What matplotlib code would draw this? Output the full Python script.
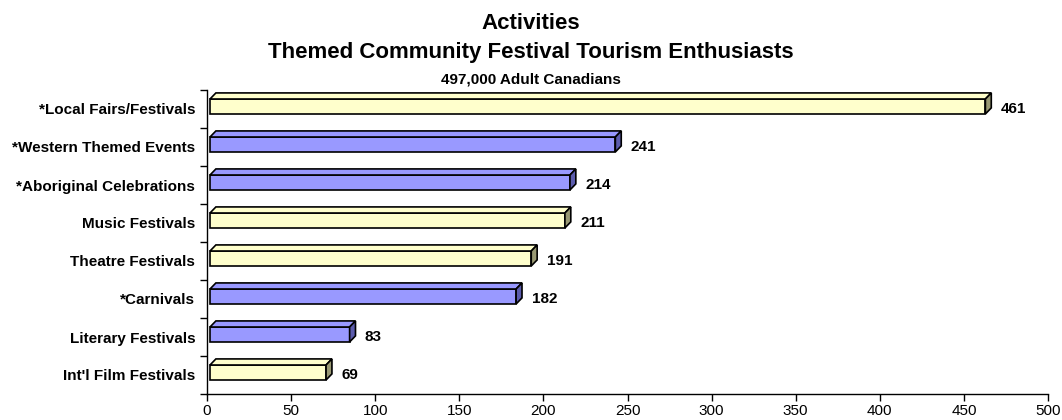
import numpy as np
import matplotlib.pyplot as plt
import matplotlib.transforms as mtransforms
from matplotlib.patches import Polygon

plt.rcParams['font.family'] = ['Liberation Sans', 'DejaVu Sans']

# Données
activities = ["*Local Fairs/Festivals", "*Western Themed Events", "*Aboriginal Celebrations",
              "Music Festivals", "Theatre Festivals", "*Carnivals", "Literary Festivals",
              "Int'l Film Festivals"]
values = [461, 241, 214, 211, 191, 182, 83, 69]
bar_group = ["yellow", "blue", "blue", "yellow", "yellow", "blue", "blue", "yellow"]
x_ticks = [0, 50, 100, 150, 200, 250, 300, 350, 400, 450, 500]

# Couleurs (face, côté)
palette = {
    "yellow": ("#FFFFCC", "#999973"),
    "blue": ("#9999FF", "#5C5CAD"),
}

fig = plt.figure(figsize=(10.62, 4.2), dpi=100)
ax = fig.add_axes([207 / 1062, 1 - 394 / 420, 841 / 1062, 304 / 420])

ax.set_xlim(0, 500)
ax.set_ylim(len(activities) - 0.5, -0.5)

# Décalage léger des barres (effet 3D d'Excel)
shift = mtransforms.ScaledTranslation(3 / 100, 0, fig.dpi_scale_trans)
trans = ax.transData + shift

dx, dy = 3.5, 0.16    # profondeur en unités de données
h = 0.197             # demi-hauteur de la face
off = -0.066          # la face est un peu au-dessus du centre

for i, (v, g) in enumerate(zip(values, bar_group)):
    face, side = palette[g]
    yc = i + off
    top = yc - h
    bot = yc + h
    front = Polygon([(0, top), (v, top), (v, bot), (0, bot)], closed=True,
                    facecolor=face, edgecolor="black", lw=1.2, transform=trans,
                    clip_on=False, joinstyle="miter")
    roof = Polygon([(0, top), (v, top), (v + dx, top - dy), (dx, top - dy)], closed=True,
                   facecolor=face, edgecolor="black", lw=1.2, transform=trans,
                   clip_on=False, joinstyle="miter")
    right = Polygon([(v, top), (v + dx, top - dy), (v + dx, bot - dy), (v, bot)], closed=True,
                    facecolor=side, edgecolor="black", lw=1.2, transform=trans,
                    clip_on=False, joinstyle="miter")
    for p in (front, roof, right):
        ax.add_patch(p)
    ax.annotate(str(v), xy=(v + dx, i), xytext=(9, 0), textcoords="offset points",
                ha="left", va="center", fontsize=11, fontweight="bold")

# Axes
for s in ("top", "right"):
    ax.spines[s].set_visible(False)
ax.spines["left"].set_linewidth(1.0)
ax.spines["bottom"].set_linewidth(1.0)

ax.set_yticks(range(len(activities)))
ax.set_yticklabels(activities, fontsize=11, fontweight="bold")
ax.set_yticks(np.arange(-0.5, len(activities), 1), minor=True)
ax.tick_params(axis="y", which="major", length=0, pad=8.5)
ax.tick_params(axis="y", which="minor", length=5, width=1.0)

ax.set_xticks(x_ticks)
ax.set_xticklabels([str(t) for t in x_ticks], fontsize=11)
ax.tick_params(axis="x", length=5, width=1.0, pad=2.5)

# Titres
fig.text(0.5, 1 - 29 / 420, "Activities", ha="center", va="baseline",
         fontsize=16, fontweight="bold")
fig.text(0.5, 1 - 58 / 420, "Themed Community Festival Tourism Enthusiasts", ha="center",
         va="baseline", fontsize=16, fontweight="bold")
fig.text(0.5, 1 - 83.5 / 420, "497,000 Adult Canadians", ha="center", va="baseline",
         fontsize=11, fontweight="bold")

fig.savefig("out.png", dpi=100)
